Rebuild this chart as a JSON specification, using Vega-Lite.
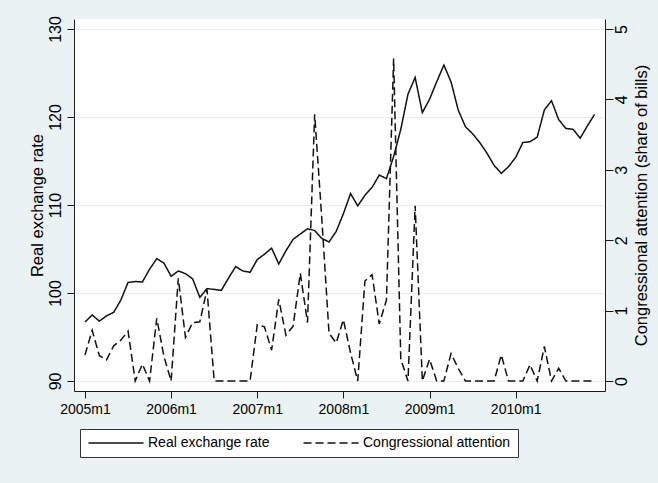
{
  "$schema": "https://vega.github.io/schema/vega-lite/v6.json",
  "width": 531,
  "height": 372,
  "autosize": "none",
  "padding": {"left": 74, "top": 19, "right": 53, "bottom": 92},
  "background": "#EAF2F3",
  "view": {"fill": "#FFFFFF", "stroke": null},
  "config": {
    "font": "Liberation Sans",
    "axis": {
      "domainColor": "#1a1a1a",
      "tickColor": "#1a1a1a",
      "domainWidth": 1,
      "tickWidth": 1,
      "labelColor": "#000000",
      "titleColor": "#000000",
      "titleFontWeight": "normal",
      "labelFont": "Liberation Sans",
      "titleFont": "Liberation Sans"
    }
  },
  "data": {
    "values": [
      {"month": "2005m1", "t": 0, "rate": 96.7, "attention": 0.37},
      {"month": "2005m2", "t": 1, "rate": 97.5, "attention": 0.72},
      {"month": "2005m3", "t": 2, "rate": 96.8, "attention": 0.36},
      {"month": "2005m4", "t": 3, "rate": 97.4, "attention": 0.30},
      {"month": "2005m5", "t": 4, "rate": 97.8, "attention": 0.50},
      {"month": "2005m6", "t": 5, "rate": 99.2, "attention": 0.58},
      {"month": "2005m7", "t": 6, "rate": 101.2, "attention": 0.71},
      {"month": "2005m8", "t": 7, "rate": 101.3, "attention": 0},
      {"month": "2005m9", "t": 8, "rate": 101.25, "attention": 0.24},
      {"month": "2005m10", "t": 9, "rate": 102.7, "attention": 0},
      {"month": "2005m11", "t": 10, "rate": 103.9, "attention": 0.89},
      {"month": "2005m12", "t": 11, "rate": 103.4, "attention": 0.35},
      {"month": "2006m1", "t": 12, "rate": 101.9, "attention": 0},
      {"month": "2006m2", "t": 13, "rate": 102.5, "attention": 1.46},
      {"month": "2006m3", "t": 14, "rate": 102.2, "attention": 0.62},
      {"month": "2006m4", "t": 15, "rate": 101.6, "attention": 0.83},
      {"month": "2006m5", "t": 16, "rate": 99.5, "attention": 0.84},
      {"month": "2006m6", "t": 17, "rate": 100.5, "attention": 1.3},
      {"month": "2006m7", "t": 18, "rate": 100.4, "attention": 0},
      {"month": "2006m8", "t": 19, "rate": 100.3, "attention": 0},
      {"month": "2006m9", "t": 20, "rate": 101.7, "attention": 0},
      {"month": "2006m10", "t": 21, "rate": 103.0, "attention": 0},
      {"month": "2006m11", "t": 22, "rate": 102.5, "attention": 0},
      {"month": "2006m12", "t": 23, "rate": 102.35, "attention": 0},
      {"month": "2007m1", "t": 24, "rate": 103.8, "attention": 0.80},
      {"month": "2007m2", "t": 25, "rate": 104.4, "attention": 0.77},
      {"month": "2007m3", "t": 26, "rate": 105.1, "attention": 0.44},
      {"month": "2007m4", "t": 27, "rate": 103.3, "attention": 1.16},
      {"month": "2007m5", "t": 28, "rate": 104.8, "attention": 0.65},
      {"month": "2007m6", "t": 29, "rate": 106.1, "attention": 0.78},
      {"month": "2007m7", "t": 30, "rate": 106.7, "attention": 1.53},
      {"month": "2007m8", "t": 31, "rate": 107.3, "attention": 0.83},
      {"month": "2007m9", "t": 32, "rate": 107.1, "attention": 3.79},
      {"month": "2007m10", "t": 33, "rate": 106.2, "attention": 2.3},
      {"month": "2007m11", "t": 34, "rate": 105.8, "attention": 0.68},
      {"month": "2007m12", "t": 35, "rate": 107.0, "attention": 0.54},
      {"month": "2008m1", "t": 36, "rate": 109.0, "attention": 0.87},
      {"month": "2008m2", "t": 37, "rate": 111.3, "attention": 0.40},
      {"month": "2008m3", "t": 38, "rate": 109.9, "attention": 0},
      {"month": "2008m4", "t": 39, "rate": 111.1, "attention": 1.42},
      {"month": "2008m5", "t": 40, "rate": 112.0, "attention": 1.51},
      {"month": "2008m6", "t": 41, "rate": 113.4, "attention": 0.81},
      {"month": "2008m7", "t": 42, "rate": 113.0, "attention": 1.15},
      {"month": "2008m8", "t": 43, "rate": 115.5, "attention": 4.58},
      {"month": "2008m9", "t": 44, "rate": 118.6, "attention": 0.31},
      {"month": "2008m10", "t": 45, "rate": 122.6, "attention": 0},
      {"month": "2008m11", "t": 46, "rate": 124.5, "attention": 2.49},
      {"month": "2008m12", "t": 47, "rate": 120.5, "attention": 0},
      {"month": "2009m1", "t": 48, "rate": 122.0, "attention": 0.31},
      {"month": "2009m2", "t": 49, "rate": 124.0, "attention": 0},
      {"month": "2009m3", "t": 50, "rate": 125.9, "attention": 0},
      {"month": "2009m4", "t": 51, "rate": 124.0, "attention": 0.39},
      {"month": "2009m5", "t": 52, "rate": 120.8, "attention": 0.18},
      {"month": "2009m6", "t": 53, "rate": 118.9, "attention": 0},
      {"month": "2009m7", "t": 54, "rate": 118.1, "attention": 0},
      {"month": "2009m8", "t": 55, "rate": 117.1, "attention": 0},
      {"month": "2009m9", "t": 56, "rate": 115.9, "attention": 0},
      {"month": "2009m10", "t": 57, "rate": 114.5, "attention": 0},
      {"month": "2009m11", "t": 58, "rate": 113.6, "attention": 0.37},
      {"month": "2009m12", "t": 59, "rate": 114.35, "attention": 0},
      {"month": "2010m1", "t": 60, "rate": 115.4, "attention": 0},
      {"month": "2010m2", "t": 61, "rate": 117.1, "attention": 0},
      {"month": "2010m3", "t": 62, "rate": 117.2, "attention": 0.23},
      {"month": "2010m4", "t": 63, "rate": 117.7, "attention": 0},
      {"month": "2010m5", "t": 64, "rate": 120.8, "attention": 0.49},
      {"month": "2010m6", "t": 65, "rate": 121.85, "attention": 0},
      {"month": "2010m7", "t": 66, "rate": 119.7, "attention": 0.18},
      {"month": "2010m8", "t": 67, "rate": 118.7, "attention": 0},
      {"month": "2010m9", "t": 68, "rate": 118.6, "attention": 0},
      {"month": "2010m10", "t": 69, "rate": 117.6, "attention": 0},
      {"month": "2010m11", "t": 70, "rate": 119.0, "attention": 0},
      {"month": "2010m12", "t": 71, "rate": 120.3, "attention": 0}
    ]
  },
  "encoding": {
    "x": {
      "field": "t",
      "type": "quantitative",
      "scale": {"domain": [-1.53, 72.45], "nice": false, "zero": false},
      "axis": {
        "title": null,
        "values": [0, 12, 24, 36, 48, 60],
        "labelExpr": "(2005 + floor(datum.value / 12)) + 'm1'",
        "tickSize": 7,
        "labelPadding": 4,
        "labelFontSize": 14,
        "labelFlush": false,
        "grid": false
      }
    }
  },
  "layer": [
    {
      "mark": {"type": "line", "color": "#111111", "strokeWidth": 1.5},
      "encoding": {
        "y": {
          "field": "rate",
          "type": "quantitative",
          "scale": {"domain": [88.86, 131.14], "nice": false, "zero": false},
          "axis": {
            "title": "Real exchange rate",
            "values": [90, 100, 110, 120, 130],
            "grid": true,
            "gridColor": "#E4EEF0",
            "gridWidth": 1,
            "tickSize": 7,
            "labelPadding": 12,
            "labelAngle": 270,
            "labelAlign": "center",
            "labelBaseline": "middle",
            "labelFontSize": 16,
            "labelOverlap": false,
            "titleFontSize": 16.5,
            "titleAngle": 270,
            "titleAlign": "center",
            "titleBaseline": "middle",
            "titleX": -37,
            "titleY": 186
          }
        },
        "strokeDash": {
          "datum": "Real exchange rate",
          "type": "nominal",
          "scale": {
            "domain": ["Real exchange rate", "Congressional attention"],
            "range": [[1, 0], [8, 4]]
          },
          "legend": {
            "title": null,
            "orient": "none",
            "legendX": 6,
            "legendY": 410,
            "direction": "horizontal",
            "fillColor": "#FFFFFF",
            "strokeColor": "#333333",
            "padding": 7,
            "symbolType": "M-5,0H5",
            "symbolSize": 121,
            "symbolOffset": 22,
            "symbolStrokeWidth": 1.5,
            "symbolStrokeColor": "#111111",
            "labelFontSize": 14,
            "labelColor": "#000000",
            "labelOffset": 25,
            "columnPadding": 30,
            "labelLimit": 300
          }
        }
      }
    },
    {
      "mark": {"type": "line", "color": "#111111", "strokeWidth": 1.5},
      "encoding": {
        "y": {
          "field": "attention",
          "type": "quantitative",
          "scale": {"domain": [-0.142, 5.142], "nice": false, "zero": false},
          "axis": {
            "orient": "right",
            "title": "Congressional attention (share of bills)",
            "values": [0, 1, 2, 3, 4, 5],
            "grid": false,
            "tickSize": 8,
            "labelPadding": 8,
            "labelAngle": 270,
            "labelAlign": "center",
            "labelBaseline": "middle",
            "labelFontSize": 16,
            "labelOverlap": false,
            "titleFontSize": 16.5,
            "titleAngle": 270,
            "titleAlign": "center",
            "titleBaseline": "middle",
            "titleX": 36,
            "titleY": 186
          }
        },
        "strokeDash": {"datum": "Congressional attention", "type": "nominal"}
      }
    }
  ],
  "resolve": {"scale": {"y": "independent"}}
}
